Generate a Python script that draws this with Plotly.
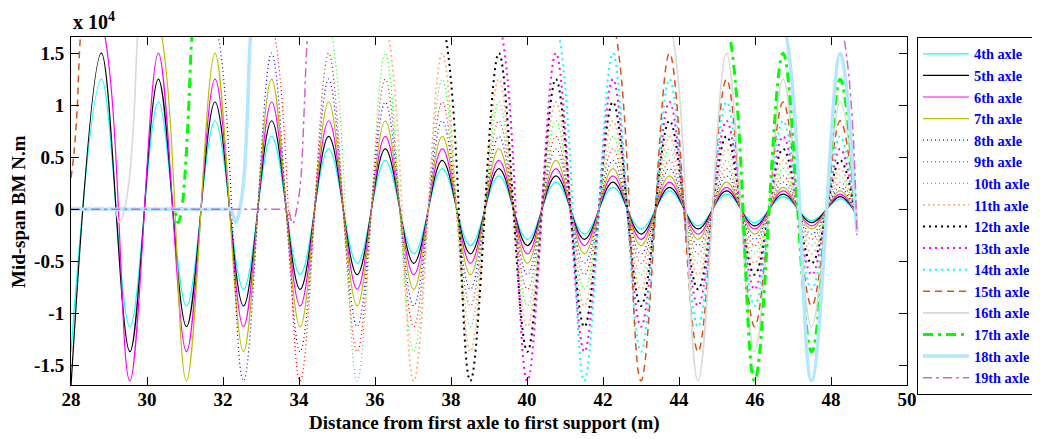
import plotly.graph_objects as go

# Distance (m) of the curve's sampled extremum points (shared by all axles)
dist = [28.00, 28.80, 29.55, 30.30, 31.04, 31.79, 32.54, 33.28, 34.03, 34.78,
        35.53, 36.27, 37.02, 37.77, 38.51, 39.26, 40.01, 40.76, 41.51, 42.26,
        43.00, 43.75, 44.50, 45.25, 45.99, 46.74, 47.49, 48.24, 48.68]

HI = 2.4   # curve is above the top of the axis (off-scale)
N = None   # not on the shared grid (see entry points)

# Mid-span bending moment (x 10^4 N.m) at those distances
axle4 = [-1.37, 1.25, -1.13, 1.03, -0.93, 0.85, -0.77, 0.70, -0.63, 0.58, -0.52, 0.47, -0.43, 0.39, -0.35,
         0.32, -0.29, 0.26, -0.24, 0.21, -0.19, 0.175, -0.16, 0.145, -0.13, 0.12, -0.11, 0.10, -0.05]
axle5 = [-1.70, 1.50, -1.37, 1.25, -1.13, 1.03, -0.93, 0.85, -0.77, 0.70, -0.63, 0.58, -0.52, 0.47, -0.43,
         0.39, -0.35, 0.32, -0.29, 0.26, -0.24, 0.21, -0.19, 0.175, -0.16, 0.145, -0.13, 0.12, -0.06]
axle6 = [HI, 1.82, -1.65, 1.50, -1.37, 1.25, -1.13, 1.03, -0.93, 0.85, -0.77, 0.70, -0.63, 0.58, -0.52,
         0.47, -0.43, 0.39, -0.35, 0.32, -0.29, 0.26, -0.24, 0.21, -0.19, 0.175, -0.16, 0.145, -0.07]
axle7 = [HI, HI, HI, 1.82, -1.65, 1.50, -1.37, 1.25, -1.13, 1.03, -0.93, 0.85, -0.77, 0.70, -0.63,
         0.58, -0.52, 0.47, -0.43, 0.39, -0.35, 0.32, -0.29, 0.26, -0.24, 0.21, -0.19, 0.175, -0.08]
axle8 = [HI, HI, HI, HI, HI, 1.82, -1.65, 1.50, -1.37, 1.25, -1.13, 1.03, -0.93, 0.85, -0.77,
         0.70, -0.63, 0.58, -0.52, 0.47, -0.43, 0.39, -0.35, 0.32, -0.29, 0.26, -0.24, 0.21, -0.09]
axle9 = [HI, HI, HI, HI, HI, HI, HI, 1.82, -1.65, 1.50, -1.37, 1.25, -1.13, 1.03, -0.93,
         0.85, -0.77, 0.70, -0.63, 0.58, -0.52, 0.47, -0.43, 0.39, -0.35, 0.32, -0.29, 0.26, -0.10]
axle10 = [HI, HI, HI, HI, HI, HI, HI, HI, HI, 1.82, -1.65, 1.50, -1.37, 1.25, -1.13,
          1.03, -0.93, 0.85, -0.77, 0.70, -0.63, 0.58, -0.52, 0.47, -0.43, 0.39, -0.35, 0.32, -0.11]
axle11 = [HI, HI, HI, HI, HI, HI, HI, HI, HI, HI, HI, 1.82, -1.65, 1.50, -1.37,
          1.25, -1.13, 1.03, -0.93, 0.85, -0.77, 0.70, -0.63, 0.58, -0.52, 0.47, -0.43, 0.39, -0.12]
axle12 = [HI, HI, HI, HI, HI, HI, HI, HI, HI, HI, HI, HI, HI, 1.82, -1.65,
          1.50, -1.37, 1.25, -1.13, 1.03, -0.93, 0.85, -0.77, 0.70, -0.63, 0.58, -0.52, 0.47, -0.13]
axle13 = [HI, HI, HI, HI, HI, HI, HI, HI, HI, HI, HI, HI, HI, HI, HI,
          1.82, -1.65, 1.50, -1.37, 1.25, -1.13, 1.03, -0.93, 0.85, -0.77, 0.70, -0.63, 0.58, -0.14]
axle14 = [HI, HI, HI, HI, HI, HI, HI, HI, HI, HI, HI, HI, HI, HI, HI,
          HI, HI, 1.82, -1.65, 1.50, -1.37, 1.25, -1.13, 1.03, -0.93, 0.85, -0.77, 0.70, -0.15]
axle15 = [N, HI, HI, HI, HI, HI, HI, HI, HI, HI, HI, HI, HI, HI, HI,
          HI, HI, HI, HI, 1.82, -1.65, 1.50, -1.37, 1.25, -1.13, 1.03, -0.93, 0.85, -0.16]
axle16 = [N, N, N, HI, HI, HI, HI, HI, HI, HI, HI, HI, HI, HI, HI,
          HI, HI, HI, HI, HI, HI, 1.82, -1.65, 1.50, -1.37, 1.25, -1.13, 1.03, -0.18]
axle17 = [N, N, N, N, N, HI, HI, HI, HI, HI, HI, HI, HI, HI, HI,
          HI, HI, HI, HI, HI, HI, HI, HI, 1.82, -1.65, 1.50, -1.37, 1.25, -0.20]
axle18 = [N, N, N, N, N, N, N, HI, HI, HI, HI, HI, HI, HI, HI,
          HI, HI, HI, HI, HI, HI, HI, HI, HI, HI, 1.82, -1.65, 1.50, -0.22]
axle19 = [N, N, N, N, N, N, N, N, N, HI, HI, HI, HI, HI, HI,
          HI, HI, HI, HI, HI, HI, HI, HI, HI, HI, HI, HI, 1.82, -0.25]

# Points where the later axles come onto the span (zero, small dip, steep rise)
entry15_x = [28.00, 28.08, 28.16, 28.24, 28.40]
entry15_y = [0.30, 0.55, 0.95, 1.62, 2.30]
entry16_x = [28.00, 29.00, 29.15, 29.27, 29.41, 29.53, 29.65, 29.75, 29.90]
entry16_y = [0.00, 0.00, 0.00, -0.13, 0.00, 0.28, 0.85, 1.65, 2.30]
entry17_x = [28.00, 30.55, 30.70, 30.82, 30.93, 31.02, 31.10, 31.18, 31.35]
entry17_y = [0.00, 0.00, 0.00, -0.13, 0.05, 0.45, 1.00, 1.65, 2.30]
entry18_x = [28.00, 32.05, 32.20, 32.33, 32.45, 32.55, 32.64, 32.72, 32.88]
entry18_y = [0.00, 0.00, 0.00, -0.13, 0.02, 0.30, 0.90, 1.65, 2.30]
entry19_x = [28.00, 33.55, 33.70, 33.83, 33.95, 34.05, 34.13, 34.22, 34.38]
entry19_y = [0.00, 0.00, 0.00, -0.14, 0.02, 0.30, 0.90, 1.65, 2.30]

names = ["4th axle", "5th axle", "6th axle", "7th axle", "8th axle", "9th axle", "10th axle",
         "11th axle", "12th axle", "13th axle", "14th axle", "15th axle", "16th axle",
         "17th axle", "18th axle", "19th axle"]
series = [axle4, axle5, axle6, axle7, axle8, axle9, axle10, axle11, axle12, axle13,
          axle14, axle15, axle16, axle17, axle18, axle19]
entries = {11: (entry15_x, entry15_y), 12: (entry16_x, entry16_y), 13: (entry17_x, entry17_y),
           14: (entry18_x, entry18_y), 15: (entry19_x, entry19_y)}

styles = [
    dict(color="#00ffff", width=1.2, dash="solid"),
    dict(color="#000000", width=1.2, dash="solid"),
    dict(color="#ff00ff", width=1.2, dash="solid"),
    dict(color="#bfbf00", width=1.2, dash="solid"),
    dict(color="#0000ff", width=1.2, dash="1px,3px"),
    dict(color="#ff0000", width=1.2, dash="1px,3px"),
    dict(color="#00ff00", width=1.2, dash="1px,3px"),
    dict(color="#ffb380", width=1.8, dash="2px,3px"),
    dict(color="#000000", width=2, dash="2px,4px"),
    dict(color="#ff00ff", width=2, dash="2px,4px"),
    dict(color="#00ffff", width=2, dash="2px,4px"),
    dict(color="#d95319", width=1.5, dash="7px,5px"),
    dict(color="#d9d9d9", width=1.6, dash="solid"),
    dict(color="#00ff00", width=3, dash="10px,5px,3px,5px"),
    dict(color="#b3e6ff", width=3.5, dash="solid"),
    dict(color="#cc66cc", width=1.5, dash="9px,4px,3px,4px"),
]

fig = go.Figure()
for i, (name, vals) in enumerate(zip(names, series)):
    xs, ys = [], []
    if i in entries:
        xs += entries[i][0]
        ys += entries[i][1]
    for xv, yv in zip(dist, vals):
        if yv is not None:
            xs.append(xv)
            ys.append(yv)
    fig.add_trace(go.Scatter(x=xs, y=ys, mode="lines", name=name,
                             line=dict(shape="spline", smoothing=1, **styles[i])))

FONT = "Liberation Serif"
axis_common = dict(showline=True, linecolor="black", linewidth=1, mirror="ticks",
                   ticks="inside", ticklen=8, tickcolor="black", tickwidth=1,
                   showgrid=False, zeroline=False,
                   tickfont=dict(family=FONT, size=19, color="black", weight="bold"))

# the page body adds an 8px offset, so margins are shifted accordingly
fig.update_layout(
    width=1040, height=439,
    margin=dict(l=63, r=141, t=29, b=62, autoexpand=False),
    paper_bgcolor="white", plot_bgcolor="white",
    showlegend=True,
    legend=dict(x=1.012, y=1.0, xanchor="left", yanchor="top",
                bordercolor="black", borderwidth=1, bgcolor="white",
                font=dict(family=FONT, size=14.3, color="#0000ff", weight="bold"),
                itemwidth=46, tracegroupgap=0, maxheight=420),
    xaxis=dict(range=[28, 50], tickvals=[28, 30, 32, 34, 36, 38, 40, 42, 44, 46, 48, 50],
               ticklabelstandoff=-3, **axis_common),
    yaxis=dict(range=[-1.69, 1.655], tickvals=[-1.5, -1, -0.5, 0, 0.5, 1, 1.5],
               ticktext=["-1.5", "-1", "-0.5", "0", "0.5", "1", "1.5"],
               ticklabelstandoff=2, **axis_common),
    annotations=[
        dict(text="Distance from first axle to first support (m)", xref="paper", yref="paper",
             x=0.495, y=-0.109, xanchor="center", yanchor="middle", showarrow=False,
             font=dict(family=FONT, size=19, color="black", weight="bold")),
        dict(text="Mid-span BM N.m", xref="paper", yref="paper", textangle=-90,
             x=-0.0634, y=0.5, xanchor="center", yanchor="middle", showarrow=False,
             font=dict(family=FONT, size=19, color="black", weight="bold")),
        dict(text="x 10<sup>4</sup>", xref="paper", yref="paper",
             x=0.0, y=1.045, xanchor="left", yanchor="middle", showarrow=False,
             font=dict(family=FONT, size=20, color="black", weight="bold")),
    ],
)

fig.write_html("out.html")
